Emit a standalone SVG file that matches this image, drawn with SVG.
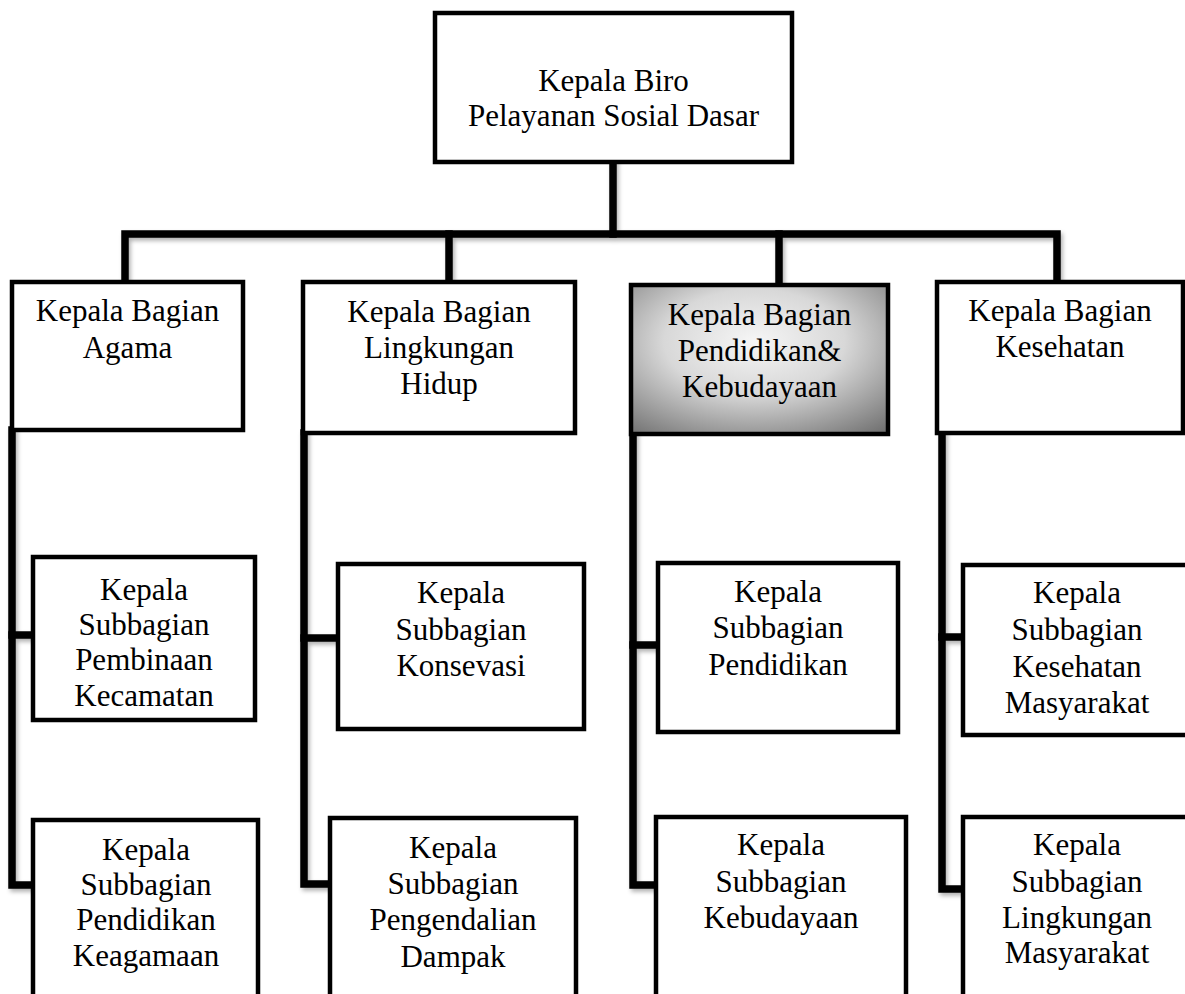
<svg xmlns="http://www.w3.org/2000/svg" width="1185" height="994" viewBox="0 0 1185 994">
<style>
.box{fill:#fff;stroke:#000;stroke-width:4.5}
.grad{fill:url(#g3);stroke:#000;stroke-width:4.5}
.conn{fill:none;stroke:#000;stroke-width:7.5;stroke-linejoin:miter;stroke-linecap:square}
text{font-family:"Liberation Serif","Times New Roman",serif;font-size:31px;fill:#000;text-anchor:middle}
</style>
<defs>
<radialGradient id="g3" cx="48%" cy="38%" r="78%">
<stop offset="0" stop-color="#f6f6f6"/>
<stop offset="0.45" stop-color="#d8d8d8"/>
<stop offset="1" stop-color="#727272"/>
</radialGradient>
<filter id="sh" x="-5%" y="-5%" width="110%" height="110%">
<feDropShadow dx="2" dy="3" stdDeviation="2" flood-color="#000" flood-opacity="0.3"/>
</filter>
</defs>
<rect width="1185" height="994" fill="#fff"/>
<g id="connectors" class="conn" filter="url(#sh)">
<path d="M613,162 V234"/>
<path d="M125,282 V234 H1057 V282"/>
<path d="M449,234 V282"/>
<path d="M779,234 V285"/>
<path d="M12,430 V885 H33"/>
<path d="M12,635 H33"/>
<path d="M304,433 V884 H330"/>
<path d="M304,638 H338"/>
<path d="M633,434 V885 H656"/>
<path d="M633,645 H658"/>
<path d="M942,433 V889 H963"/>
<path d="M942,637 H963"/>
</g>
<g id="n-top">
<rect class="box" x="435" y="13" width="357" height="149"/>
<text x="613.5" y="91">Kepala Biro</text>
<text x="613.5" y="126">Pelayanan Sosial Dasar</text>
</g>
<g id="n-agama">
<rect class="box" x="12" y="282" width="231" height="148"/>
<text x="127.5" y="321">Kepala Bagian</text>
<text x="127.5" y="358">Agama</text>
</g>
<g id="n-lh">
<rect class="box" x="303" y="282" width="272" height="151"/>
<text x="439" y="322">Kepala Bagian</text>
<text x="439" y="358">Lingkungan</text>
<text x="439" y="394">Hidup</text>
</g>
<g id="n-pk">
<rect class="grad" x="631" y="285" width="257" height="149"/>
<text x="759.5" y="325">Kepala Bagian</text>
<text x="759.5" y="361">Pendidikan&amp;</text>
<text x="759.5" y="397">Kebudayaan</text>
</g>
<g id="n-kes">
<rect class="box" x="937" y="282" width="246" height="151"/>
<text x="1060" y="321">Kepala Bagian</text>
<text x="1060" y="357">Kesehatan</text>
</g>
<g id="n-pembinaan">
<rect class="box" x="33" y="557" width="222" height="163"/>
<text x="144" y="600">Kepala</text>
<text x="144" y="635">Subbagian</text>
<text x="144" y="670">Pembinaan</text>
<text x="144" y="706">Kecamatan</text>
</g>
<g id="n-keagamaan">
<rect class="box" x="33" y="820" width="225" height="190"/>
<text x="146" y="860">Kepala</text>
<text x="146" y="895">Subbagian</text>
<text x="146" y="930">Pendidikan</text>
<text x="146" y="966">Keagamaan</text>
</g>
<g id="n-konsevasi">
<rect class="box" x="338" y="564" width="246" height="165"/>
<text x="461" y="603">Kepala</text>
<text x="461" y="640">Subbagian</text>
<text x="461" y="676">Konsevasi</text>
</g>
<g id="n-dampak">
<rect class="box" x="330" y="818" width="246" height="190"/>
<text x="453" y="858">Kepala</text>
<text x="453" y="894">Subbagian</text>
<text x="453" y="930">Pengendalian</text>
<text x="453" y="967">Dampak</text>
</g>
<g id="n-pendidikan">
<rect class="box" x="658" y="563" width="240" height="169"/>
<text x="778" y="602">Kepala</text>
<text x="778" y="638">Subbagian</text>
<text x="778" y="675">Pendidikan</text>
</g>
<g id="n-kebudayaan">
<rect class="box" x="656" y="817" width="250" height="190"/>
<text x="781" y="855">Kepala</text>
<text x="781" y="892">Subbagian</text>
<text x="781" y="928">Kebudayaan</text>
</g>
<g id="n-kesmas">
<rect class="box" x="963" y="565" width="240" height="170"/>
<text x="1077" y="603">Kepala</text>
<text x="1077" y="640">Subbagian</text>
<text x="1077" y="677">Kesehatan</text>
<text x="1077" y="713">Masyarakat</text>
</g>
<g id="n-lingmas">
<rect class="box" x="963" y="817" width="240" height="190"/>
<text x="1077" y="855">Kepala</text>
<text x="1077" y="892">Subbagian</text>
<text x="1077" y="928">Lingkungan</text>
<text x="1077" y="963">Masyarakat</text>
</g>
</svg>
